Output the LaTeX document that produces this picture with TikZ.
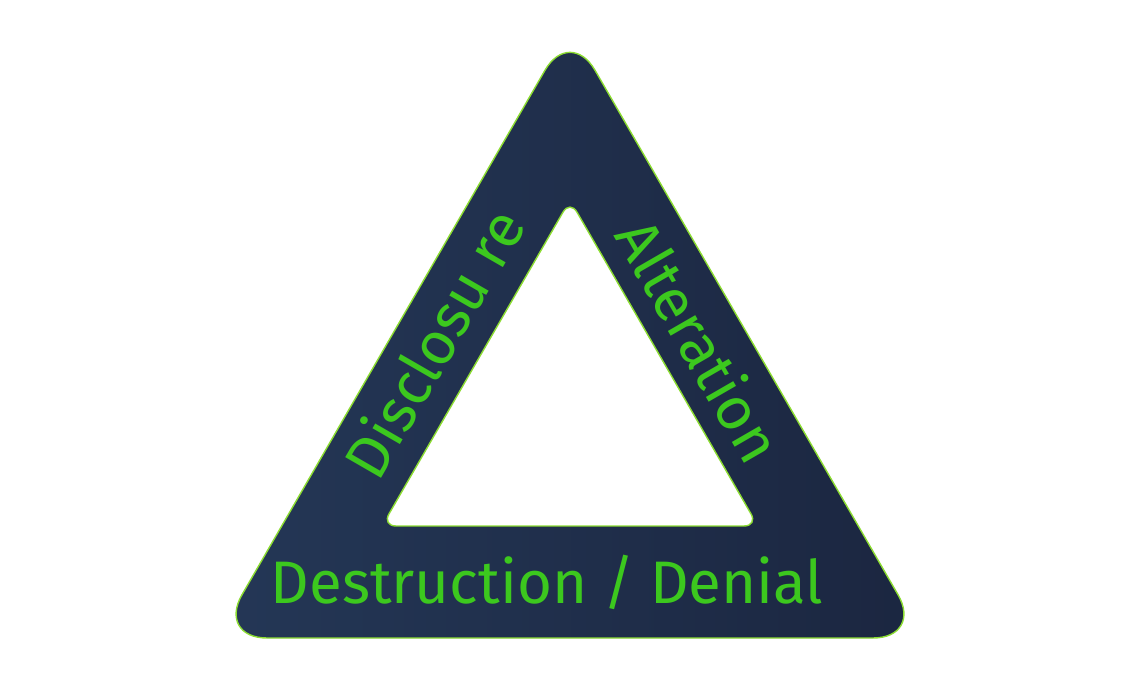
\documentclass[tikz,border=0pt]{standalone}
\usepackage{fontspec}
\setmainfont{Fira Sans}
\definecolor{navyL}{RGB}{36,55,86}
\definecolor{navyR}{RGB}{27,38,64}
\definecolor{rim}{RGB}{140,220,50}
\definecolor{label}{RGB}{60,200,30}
\tikzset{
  lbl/.style={text=label, inner sep=0pt, font=\fontsize{60}{68}\selectfont},
}
\begin{document}
\begin{tikzpicture}[x=1pt,y=1pt]
\useasboundingbox (0,0) rectangle (1140,694);
\coordinate (oA) at (570,667);
\coordinate (oL) at (217,56);
\coordinate (oR) at (923,56);
\coordinate (iA) at (570,494);
\coordinate (iL) at (382,168);
\coordinate (iR) at (758,168);
\shade[left color=navyL, right color=navyR, even odd rule]
  [rounded corners=50pt] (oA) -- (oR) -- (oL) -- cycle
  [rounded corners=14pt] (iA) -- (iR) -- (iL) -- cycle;
\draw[rim, line width=1.4pt, rounded corners=50pt] (oA) -- (oR) -- (oL) -- cycle;
\draw[rim, line width=1.4pt, rounded corners=14pt] (iA) -- (iR) -- (iL) -- cycle;
\node[lbl, anchor=base] (dd) at (547,91) {Destruction / Denial};
\node[lbl, rotate=60] (dis) at (433,351) {Disclosu re};
\node[lbl, rotate=-60] (alt) at (700,354) {Alteration};
\end{tikzpicture}
\end{document}
